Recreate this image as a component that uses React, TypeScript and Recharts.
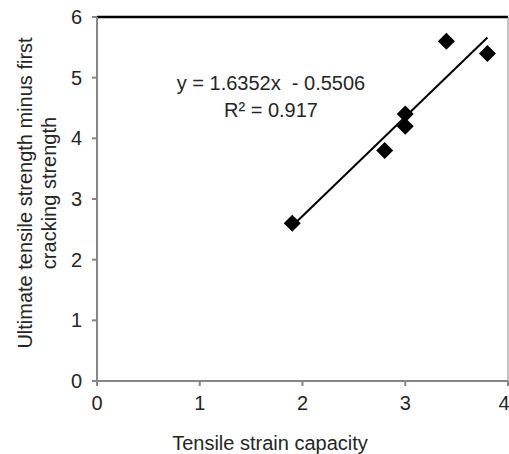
import { ScatterChart, Scatter, XAxis, YAxis, ReferenceLine, Customized } from 'recharts';

const strainCapacity = [1.9, 2.8, 3.0, 3.0, 3.4, 3.8];
const strengthGain = [2.6, 3.8, 4.2, 4.4, 5.6, 5.4];
const xTicks = [0, 1, 2, 3, 4];
const yTicks = [0, 1, 2, 3, 4, 5, 6];
const fitSlope = 1.6352;
const fitIntercept = -0.5506;
const fitRange = [1.9, 3.8];

const points = strainCapacity.map((x, i) => ({ x, y: strengthGain[i] }));
const fitSegment = fitRange.map((x) => ({ x, y: fitSlope * x + fitIntercept }));

const FONT = '"Liberation Sans", Arial, sans-serif';
const AXIS = '#878787';
const TEXT = '#262626';
const FS = 20;

function Diamond(props: any) {
  const { cx, cy } = props;
  const h = 8.5;
  return <polygon points={`${cx},${cy - h} ${cx + h},${cy} ${cx},${cy + h} ${cx - h},${cy}`} fill="#000" />;
}

function YTitle() {
  return (
    <text transform="translate(37,193) rotate(-90)" textAnchor="middle" fontFamily={FONT} fontSize={FS} fill={TEXT}>
      <tspan x={0} dy={-5}>Ultimate tensile strength minus first</tspan>
      <tspan x={0} dy={24}>cracking strength</tspan>
    </text>
  );
}

function XTitle() {
  return (
    <text x={270} y={450} textAnchor="middle" fontFamily={FONT} fontSize={FS} fill={TEXT}>
      Tensile strain capacity
    </text>
  );
}

function Equation() {
  return (
    <g fontFamily={FONT} fontSize={FS} fill={TEXT} textAnchor="middle">
      <text x={271} y={90} style={{ whiteSpace: 'pre' }}>y = 1.6352x  - 0.5506</text>
      <text x={271} y={117}>R² = 0.917</text>
    </g>
  );
}

export default function App() {
  return (
    <div style={{ position: 'absolute', left: 0, top: 0, background: '#fff' }}>
      <ScatterChart width={509} height={454} margin={{ top: 17, right: 1, bottom: 0, left: 0 }}>
        <XAxis
          type="number"
          dataKey="x"
          domain={[0, 4]}
          ticks={xTicks}
          height={73}
          axisLine={{ stroke: AXIS, strokeWidth: 2 }}
          tickLine={{ stroke: AXIS, strokeWidth: 2 }}
          tickSize={5}
          tickMargin={10}
          tick={{ fill: TEXT, fontSize: FS, fontFamily: FONT }}
          label={<XTitle />}
        />
        <YAxis
          type="number"
          dataKey="y"
          domain={[0, 6]}
          ticks={yTicks}
          width={97}
          axisLine={{ stroke: AXIS, strokeWidth: 2 }}
          tickLine={{ stroke: AXIS, strokeWidth: 2 }}
          tickSize={5}
          tickMargin={10}
          tick={{ fill: TEXT, fontSize: FS, fontFamily: FONT }}
          label={<YTitle />}
        />
        <ReferenceLine y={6} stroke="#000" strokeWidth={2.5} />
        <ReferenceLine x={4} stroke={AXIS} strokeWidth={1} />
        <ReferenceLine segment={fitSegment} stroke="#000" strokeWidth={2} />
        <Scatter data={points} shape={<Diamond />} isAnimationActive={false} />
        <Customized component={Equation} />
      </ScatterChart>
    </div>
  );
}
